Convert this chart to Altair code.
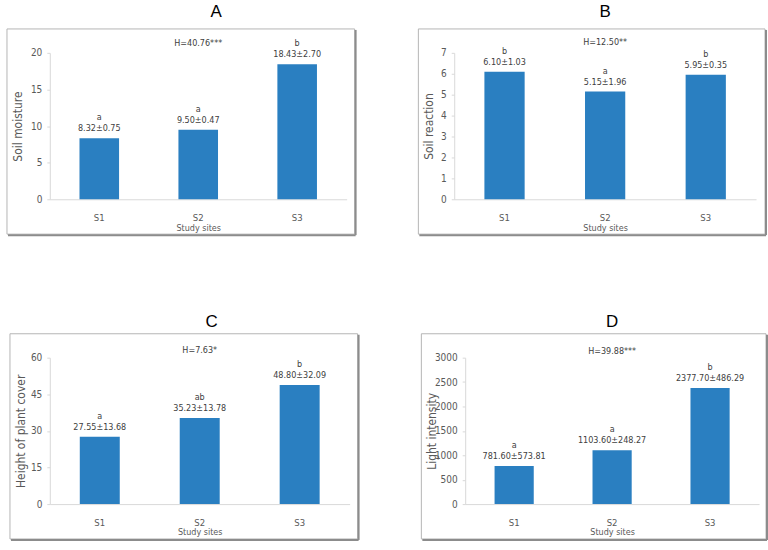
import altair as alt
import pandas as pd

# ---------------- data ----------------
sites = ["S1", "S2", "S3"]
x_title = "Study sites"

panel_letters = ["A", "B", "C", "D"]
h_stats = ["H=40.76***", "H=12.50**", "H=7.63*", "H=39.88***"]
y_titles = ["Soil moisture", "Soil reaction", "Height of plant cover", "Light intensity"]

moisture_mean = [8.32, 9.50, 18.43]
moisture_sd = [0.75, 0.47, 2.70]
moisture_letter = ["a", "a", "b"]
moisture_ticks = [0, 5, 10, 15, 20]

reaction_mean = [6.10, 5.15, 5.95]
reaction_sd = [1.03, 1.96, 0.35]
reaction_letter = ["b", "a", "b"]
reaction_ticks = [0, 1, 2, 3, 4, 5, 6, 7]

cover_mean = [27.55, 35.23, 48.80]
cover_sd = [13.68, 13.78, 32.09]
cover_letter = ["a", "ab", "b"]
cover_ticks = [0, 15, 30, 45, 60]

light_mean = [781.60, 1103.60, 2377.70]
light_sd = [573.81, 248.27, 486.29]
light_letter = ["a", "a", "b"]
light_ticks = [0, 500, 1000, 1500, 2000, 2500, 3000]

# ---------------- style ----------------
FONT = "DejaVu Sans Condensed, DejaVu Sans, sans-serif"
BAR = "#2a7fc1"
TXT = "#404040"
H = 147

# width, box-left, box-right, titleX, H-text y, title dx, title offset
layout = {
    "A": dict(w=298, bl=-43, br=8, tx=-32, hy=-10, dx=18, off=7),
    "B": dict(w=303, bl=-36, br=9, tx=-26, hy=-11, dx=0, off=7),
    "C": dict(w=301, bl=-40, br=8, tx=-29, hy=-8, dx=12, off=2),
    "D": dict(w=295, bl=-44, br=7, tx=-34, hy=-7, dx=0, off=2),
}
BOX_T, BOX_B = -24, 35


def panel(letter, hstat, ytitle, means, sds, letters, ticks):
    p = layout[letter]
    w = p["w"]
    df = pd.DataFrame({
        "site": sites,
        "value": means,
        "label": [f"{m:.2f}±{s:.2f}" for m, s in zip(means, sds)],
        "grp": letters,
    })
    x = alt.X("site:N", sort=sites,
              scale=alt.Scale(paddingInner=0.6, paddingOuter=0.3),
              axis=alt.Axis(title=x_title, labelAngle=0, ticks=False,
                            labelFontSize=9.5, titleFontSize=9,
                            labelPadding=13, titlePadding=1.5))
    y = alt.Y("value:Q",
              scale=alt.Scale(domain=[ticks[0], ticks[-1]], nice=False, zero=True),
              axis=alt.Axis(title=ytitle, values=ticks, format="d", tickSize=3,
                            labelPadding=5, labelFontSize=10, titleFontSize=12,
                            titleX=p["tx"], titleY=H / 2, titleAngle=270,
                            titleBaseline="middle", titleAlign="center"))
    base = alt.Chart(df).encode(x=x, y=y)
    bars = base.mark_bar(color=BAR)
    lab = base.mark_text(dy=-10, baseline="middle", font=FONT, fontSize=9,
                         color=TXT).encode(text="label:N")
    grp = base.mark_text(dy=-21, baseline="middle", font=FONT, fontSize=9,
                         color=TXT).encode(text="grp:N")

    one = pd.DataFrame({"t": [hstat]})
    htext = alt.Chart(one).mark_text(font=FONT, fontSize=9, color=TXT,
                                     baseline="middle").encode(
        x=alt.value(w / 2), y=alt.value(p["hy"]), text="t:N")
    box = alt.Chart(one).mark_rect(fillOpacity=0, stroke="#b5b5b5",
                                   strokeWidth=1).encode(
        x=alt.value(p["bl"]), x2=alt.value(w + p["br"]),
        y=alt.value(BOX_T), y2=alt.value(H + BOX_B))
    shadow_b = alt.Chart(one).mark_rule(color="#8c8c8c", strokeWidth=2).encode(
        x=alt.value(p["bl"] + 1), x2=alt.value(w + p["br"] + 1),
        y=alt.value(H + BOX_B + 1))
    shadow_r = alt.Chart(one).mark_rule(color="#8c8c8c", strokeWidth=2).encode(
        x=alt.value(w + p["br"] + 1), y=alt.value(BOX_T + 1),
        y2=alt.value(H + BOX_B + 1))

    return alt.layer(box, shadow_b, shadow_r, bars, lab, grp, htext).properties(
        width=w, height=H,
        title=alt.TitleParams(letter, dx=p["dx"], offset=p["off"]))


pA = panel("A", h_stats[0], y_titles[0], moisture_mean, moisture_sd, moisture_letter, moisture_ticks)
pB = panel("B", h_stats[1], y_titles[1], reaction_mean, reaction_sd, reaction_letter, reaction_ticks)
pC = panel("C", h_stats[2], y_titles[2], cover_mean, cover_sd, cover_letter, cover_ticks)
pD = panel("D", h_stats[3], y_titles[3], light_mean, light_sd, light_letter, light_ticks)

chart = alt.vconcat(
    alt.hconcat(pA, pB, spacing=61),
    alt.hconcat(pC, pD, spacing=61),
    spacing=77,
).properties(
    padding={"left": 6, "top": 2, "right": 0, "bottom": 0},
    background="white",
).configure_view(strokeWidth=0).configure_axis(
    labelFont=FONT, labelColor="#595959",
    titleFont=FONT, titleColor="#595959", titleFontWeight="normal",
    domainColor="#d9d9d9", tickColor="#d9d9d9", grid=False,
).configure_title(
    font="Liberation Sans, Arial, sans-serif", fontSize=17, fontWeight="normal",
    color="black", anchor="middle",
)

chart.save("out.html", embed_options={"renderer": "svg", "actions": False})
